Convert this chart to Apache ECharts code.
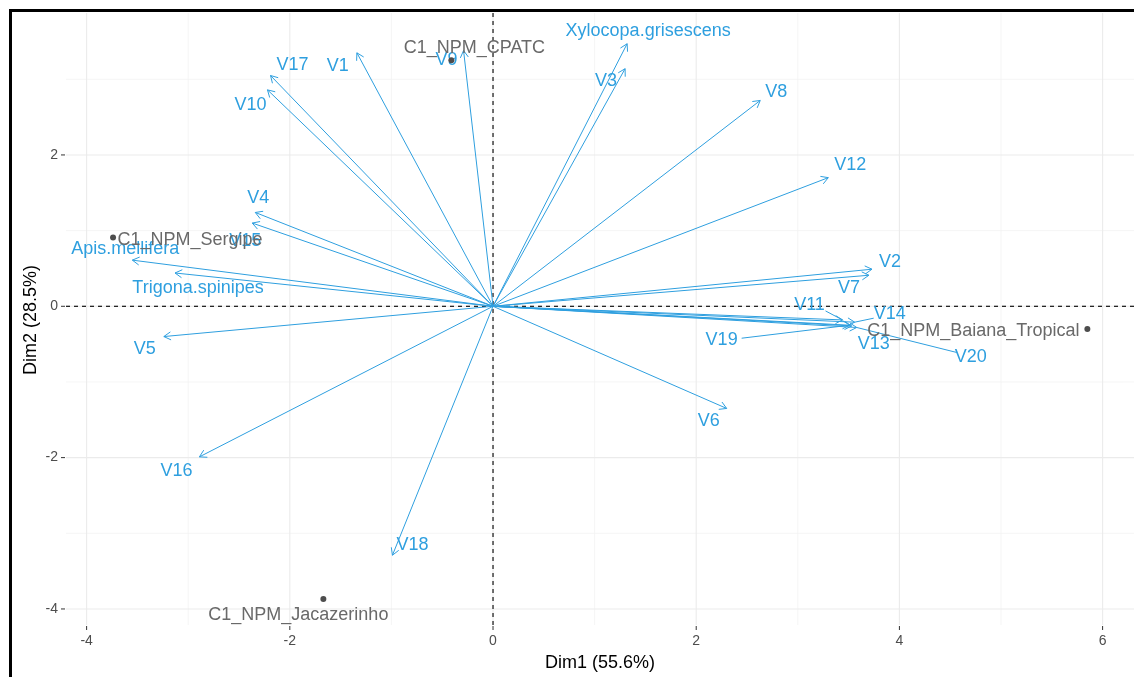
<!DOCTYPE html>
<html>
<head>
<meta charset="utf-8">
<script src="https://cdn.jsdelivr.net/npm/echarts@6/dist/echarts.min.js"></script>
<style>
html,body{margin:0;padding:0;background:#fff;}
#chart{width:1134px;height:677px;}
</style>
</head>
<body>
<div id="chart"></div>
<script>
// ---- data ----
const varNames = ['V1','V17','V10','V9','Xylocopa.grisescens','V3','V8','V12','V4','V15','Apis.mellifera','Trigona.spinipes','V5','V16','V18','V6','V2','V7','V11','V14','V13','V19','V20'];
const varDim1 = [-1.34,-2.19,-2.22,-0.29,1.32,1.30,2.63,3.30,-2.34,-2.37,-3.55,-3.13,-3.24,-2.89,-0.99,2.30,3.73,3.70,3.44,3.56,3.53,3.51,3.58];
const varDim2 = [3.35,3.05,2.86,3.38,3.47,3.14,2.72,1.70,1.24,1.10,0.61,0.44,-0.40,-1.99,-3.29,-1.35,0.49,0.41,-0.18,-0.21,-0.26,-0.25,-0.28];

const indNames = ['C1_NPM_CPATC','C1_NPM_Sergipe','C1_NPM_Baiana_Tropical','C1_NPM_Jacazerinho'];
const indDim1 = [-0.41,-3.74,5.85,-1.67];
const indDim2 = [3.25,0.91,-0.30,-3.87];

const xTickLabels = [-4,-2,0,2,4,6];
const yTickLabels = [-4,-2,0,2];
const xMinor = [-3,-1,1,3,5];
const yMinor = [-3,-1,1,3];

const xTitle = 'Dim1 (55.6%)';
const yTitle = 'Dim2 (28.5%)';

// ---- layout / style (label placement in px, relative to the mark) ----
const X_MIN = -4.203, X_MAX = 6.309, Y_MIN = -4.212, Y_MAX = 3.876;
const varLabelOffset = {
  'V1':[-19,13],'V17':[22,-10],'V10':[-17,15],'V9':[-17,10],'Xylocopa.grisescens':[21,-13],
  'V3':[-19,12],'V8':[16,-8],'V12':[22,-13],'V4':[3,-14],'V15':[-7,18],'Apis.mellifera':[-7,-11],
  'Trigona.spinipes':[23,15],'V5':[-19,12],'V16':[-23,14],'V18':[20,-10],'V6':[-18,13],
  'V2':[18,-7],'V7':[-20,13],'V11':[-33,-15],'V14':[35,-8],'V13':[22,18],'V19':[-128,15],'V20':[114,30]
};
const varSegStart = {'V19':[20,-2],'V20':[-14,-5],'V11':[16,6],'V14':[-16,4]};
const indLabelOffset = {
  'C1_NPM_CPATC':[23,-12],'C1_NPM_Sergipe':[77,3],'C1_NPM_Baiana_Tropical':[-114,2],'C1_NPM_Jacazerinho':[-25,16]
};
const VAR_COL = '#2E9FDF';
const IND_COL = '#696969';
const FONT = '"Liberation Sans", Arial, sans-serif';

const chart = echarts.init(document.getElementById('chart'), null, {renderer:'canvas'});

function vLine(kind){
  return function(params, api){
    const v = api.value(0);
    const a = api.coord([v, Y_MIN]), b = api.coord([v, Y_MAX]);
    return {type:'line', shape:{x1:a[0],y1:a[1],x2:b[0],y2:b[1]},
      style:{stroke: kind==='major' ? '#EBEBEB' : '#F2F2F2', lineWidth: kind==='major'?1.1:0.8}};
  };
}
function hLine(kind){
  return function(params, api){
    const v = api.value(1);
    const a = api.coord([X_MIN, v]), b = api.coord([X_MAX, v]);
    return {type:'line', shape:{x1:a[0],y1:a[1],x2:b[0],y2:b[1]},
      style:{stroke: kind==='major' ? '#EBEBEB' : '#F2F2F2', lineWidth: kind==='major'?1.1:0.8}};
  };
}

const option = {
  animation:false,
  grid:{left:66, top:13, right:0, bottom:52, containLabel:false},
  xAxis:{type:'value', min:X_MIN, max:X_MAX, show:false},
  yAxis:{type:'value', min:Y_MIN, max:Y_MAX, show:false},
  graphic:[
    {type:'rect', shape:{x:9,y:9,width:1125,height:3}, style:{fill:'#000'}},
    {type:'rect', shape:{x:9,y:9,width:3,height:668}, style:{fill:'#000'}},
    {type:'text', x:600, y:663, style:{text:xTitle, fill:'#000', font:'18px '+FONT, align:'center', verticalAlign:'middle'}},
    {type:'text', x:31, y:320, rotation:Math.PI/2, style:{text:yTitle, fill:'#000', font:'18px '+FONT, align:'center', verticalAlign:'middle'}}
  ],
  series:[
    {type:'custom', clip:false, z:1, silent:true, data:xMinor.map(v=>[v,0]), renderItem:vLine('minor')},
    {type:'custom', clip:false, z:1, silent:true, data:yMinor.map(v=>[0,v]), renderItem:hLine('minor')},
    {type:'custom', clip:false, z:1, silent:true, data:xTickLabels.map(v=>[v,0]), renderItem:function(params, api){
      const v = api.value(0);
      const a = api.coord([v, Y_MIN]), b = api.coord([v, Y_MAX]);
      return {type:'group', children:[
        {type:'line', shape:{x1:a[0],y1:a[1],x2:b[0],y2:b[1]}, style:{stroke:'#EBEBEB', lineWidth:1.1}},
        {type:'line', shape:{x1:a[0],y1:a[1]+1,x2:a[0],y2:a[1]+5}, style:{stroke:'#333', lineWidth:1}},
        {type:'text', x:a[0], y:a[1]+16, style:{text:String(xTickLabels[params.dataIndex]), fill:'#4D4D4D', font:'14px '+FONT, align:'center', verticalAlign:'middle'}}
      ]};
    }},
    {type:'custom', clip:false, z:1, silent:true, data:yTickLabels.map(v=>[0,v]), renderItem:function(params, api){
      const v = api.value(1);
      const a = api.coord([X_MIN, v]), b = api.coord([X_MAX, v]);
      return {type:'group', children:[
        {type:'line', shape:{x1:a[0],y1:a[1],x2:b[0],y2:b[1]}, style:{stroke:'#EBEBEB', lineWidth:1.1}},
        {type:'line', shape:{x1:a[0]-5,y1:a[1],x2:a[0]-1,y2:a[1]}, style:{stroke:'#333', lineWidth:1}},
        {type:'text', x:a[0]-8, y:a[1], style:{text:String(yTickLabels[params.dataIndex]), fill:'#4D4D4D', font:'14px '+FONT, align:'right', verticalAlign:'middle'}}
      ]};
    }},
    // zero reference lines
    {type:'custom', clip:false, z:2, silent:true, data:[[0,0]], renderItem:function(params, api){
      const a = api.coord([0, Y_MIN]), b = api.coord([0, Y_MAX]);
      const c = api.coord([X_MIN, 0]), d = api.coord([X_MAX, 0]);
      return {type:'group', children:[
        {type:'line', shape:{x1:a[0],y1:a[1],x2:b[0],y2:b[1]}, style:{stroke:'#000', lineWidth:1.1, lineDash:[4,4]}},
        {type:'line', shape:{x1:c[0],y1:c[1],x2:d[0],y2:d[1]}, style:{stroke:'#000', lineWidth:1.1, lineDash:[4,4]}}
      ]};
    }},
    // variable arrows
    {type:'custom', clip:false, z:3, silent:true, data:varDim1.map((x,i)=>[x, varDim2[i]]), renderItem:function(params, api){
      const o = api.coord([0,0]);
      const t = api.coord([api.value(0), api.value(1)]);
      const ang = Math.atan2(t[1]-o[1], t[0]-o[0]);
      const L = 8, A = Math.PI/6;
      const p1 = [t[0]-L*Math.cos(ang-A), t[1]-L*Math.sin(ang-A)];
      const p2 = [t[0]-L*Math.cos(ang+A), t[1]-L*Math.sin(ang+A)];
      const name = varNames[params.dataIndex];
      const off = varLabelOffset[name] || [0,-12];
      const lx = t[0]+off[0], ly = t[1]+off[1];
      const children = [
        {type:'line', shape:{x1:o[0],y1:o[1],x2:t[0],y2:t[1]}, style:{stroke:VAR_COL, lineWidth:1}},
        {type:'polyline', shape:{points:[p1,t,p2]}, style:{stroke:VAR_COL, lineWidth:1, fill:null}},
        {type:'text', x:lx, y:ly, style:{text:name, fill:VAR_COL, font:'18px '+FONT, align:'center', verticalAlign:'middle'}}
      ];
      const seg = varSegStart[name];
      if (seg) {
        children.push({type:'line', shape:{x1:lx+seg[0],y1:ly+seg[1],x2:t[0],y2:t[1]}, style:{stroke:VAR_COL, lineWidth:1}});
      }
      return {type:'group', children:children};
    }},
    // individuals
    {type:'custom', clip:false, z:4, silent:true, data:indDim1.map((x,i)=>[x, indDim2[i]]), renderItem:function(params, api){
      const p = api.coord([api.value(0), api.value(1)]);
      const name = indNames[params.dataIndex];
      const off = indLabelOffset[name] || [0,-12];
      return {type:'group', children:[
        {type:'circle', shape:{cx:p[0], cy:p[1], r:3}, style:{fill:'#4D4D4D'}},
        {type:'text', x:p[0]+off[0], y:p[1]+off[1], style:{text:name, fill:IND_COL, font:'18px '+FONT, align:'center', verticalAlign:'middle'}}
      ]};
    }}
  ]
};
chart.setOption(option);
</script>
</body>
</html>
